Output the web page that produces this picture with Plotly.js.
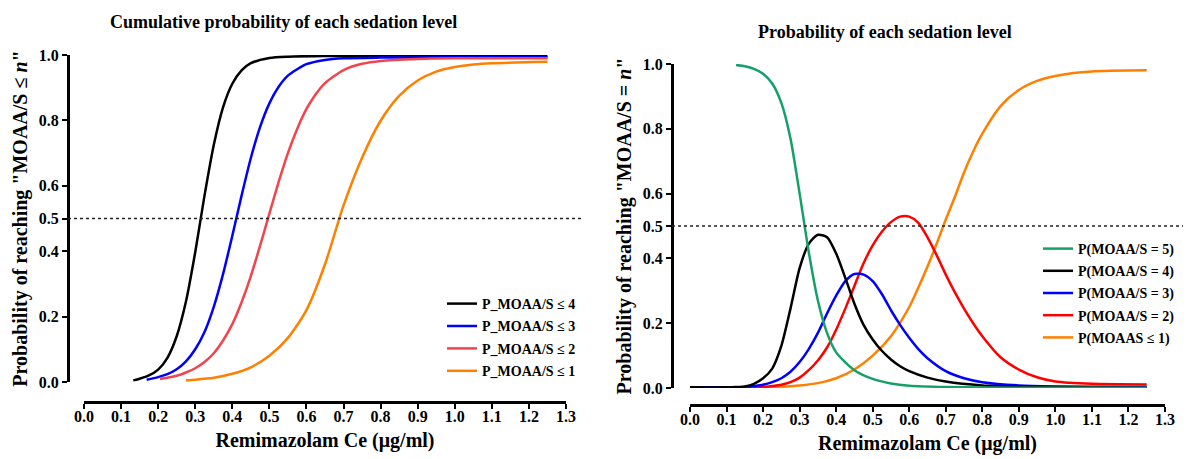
<!DOCTYPE html>
<html><head><meta charset="utf-8">
<script src="https://cdn.plot.ly/plotly-3.0.1.min.js"></script>
<style>html,body{margin:0;padding:0;background:#fff}#chart{width:1203px;height:459px}</style>
</head><body><div id="chart"></div>
<script>
// ---- tick labels ----
const xTickVals = [0,0.1,0.2,0.3,0.4,0.5,0.6,0.7,0.8,0.9,1.0,1.1,1.2,1.3];
const xTickText = ['0.0','0.1','0.2','0.3','0.4','0.5','0.6','0.7','0.8','0.9','1.0','1.1','1.2','1.3'];
const yTickVals = [0,0.2,0.4,0.5,0.6,0.8,1.0];
const yTickText = ['0.0','0.2','0.4','0.5','0.6','0.8','1.0'];

// ---- left panel: cumulative probabilities ----
const leftNames = ['P_MOAA/S ≤ 4','P_MOAA/S ≤ 3','P_MOAA/S ≤ 2','P_MOAA/S ≤ 1'];
const lx4 = [0.133,0.15,0.175,0.2,0.225,0.25,0.275,0.3,0.325,0.35,0.375,0.4,0.425,0.45,0.5,0.55,0.65,0.8,1.0,1.25];
const ly4 = [0.005,0.01,0.02,0.038,0.074,0.14,0.246,0.397,0.57,0.725,0.84,0.912,0.953,0.975,0.991,0.995,0.997,0.997,0.997,0.997];
const lx3 = [0.169,0.2,0.225,0.25,0.275,0.3,0.325,0.35,0.375,0.4,0.425,0.45,0.475,0.5,0.525,0.55,0.6,0.65,0.7,0.8,1.0,1.25];
const ly3 = [0.007,0.015,0.024,0.039,0.063,0.1,0.153,0.23,0.33,0.447,0.57,0.685,0.78,0.852,0.903,0.937,0.972,0.985,0.99,0.992,0.993,0.993];
const lx2 = [0.205,0.225,0.25,0.275,0.3,0.325,0.35,0.375,0.4,0.425,0.45,0.475,0.5,0.525,0.55,0.575,0.6,0.625,0.65,0.7,0.75,0.8,0.9,1.0,1.25];
const ly2 = [0.009,0.013,0.019,0.029,0.042,0.061,0.088,0.127,0.177,0.244,0.324,0.417,0.515,0.612,0.7,0.774,0.835,0.88,0.914,0.954,0.973,0.982,0.988,0.99,0.99];
const lx1 = [0.275,0.3,0.35,0.4,0.45,0.5,0.55,0.6,0.65,0.7,0.75,0.8,0.85,0.9,0.95,1.0,1.05,1.1,1.25];
const ly1 = [0.005,0.007,0.013,0.025,0.045,0.08,0.135,0.22,0.36,0.54,0.686,0.799,0.875,0.922,0.949,0.963,0.971,0.975,0.979];

// ---- right panel: probability of each level ----
const rightNames = ['P(MOAA/S = 5)','P(MOAA/S = 4)','P(MOAA/S = 3)','P(MOAA/S = 2)','P(MOAAS ≤ 1)'];
const rx5 = [0.126,0.15,0.175,0.2,0.225,0.25,0.275,0.3,0.325,0.35,0.375,0.4,0.45,0.5,0.55,0.6,0.7,0.9,1.25];
const ry5 = [0.997,0.993,0.985,0.97,0.94,0.88,0.77,0.6,0.42,0.27,0.17,0.11,0.055,0.028,0.014,0.007,0.003,0.001,0.0005];
const rx4 = [0.0,0.1,0.125,0.15,0.175,0.2,0.225,0.25,0.275,0.3,0.325,0.35,0.375,0.4,0.425,0.45,0.475,0.5,0.525,0.55,0.575,0.6,0.65,0.7,0.8,0.9,1.05,1.25];
const ry4 = [0.002,0.002,0.003,0.005,0.013,0.03,0.06,0.13,0.245,0.37,0.445,0.473,0.465,0.415,0.34,0.26,0.195,0.15,0.115,0.088,0.067,0.052,0.032,0.02,0.008,0.004,0.002,0.001];
const rx3 = [0.0,0.15,0.175,0.2,0.225,0.25,0.275,0.3,0.325,0.35,0.375,0.4,0.425,0.45,0.475,0.5,0.525,0.55,0.575,0.6,0.625,0.65,0.7,0.75,0.8,0.9,1.0,1.25];
const ry3 = [0.002,0.003,0.006,0.01,0.018,0.03,0.05,0.08,0.12,0.17,0.23,0.285,0.33,0.352,0.35,0.33,0.29,0.24,0.195,0.155,0.12,0.092,0.052,0.03,0.018,0.008,0.005,0.003];
const rx2 = [0.0,0.2,0.225,0.25,0.275,0.3,0.325,0.35,0.375,0.4,0.425,0.45,0.475,0.5,0.525,0.55,0.575,0.6,0.625,0.65,0.675,0.7,0.725,0.75,0.775,0.8,0.85,0.9,0.95,1.0,1.1,1.25];
const ry2 = [0.002,0.003,0.006,0.01,0.018,0.032,0.055,0.085,0.125,0.18,0.245,0.315,0.385,0.44,0.482,0.512,0.529,0.529,0.51,0.465,0.41,0.35,0.295,0.245,0.2,0.16,0.095,0.057,0.033,0.02,0.013,0.011];
const rx1 = [0.0,0.2,0.25,0.3,0.35,0.4,0.45,0.5,0.55,0.6,0.625,0.65,0.675,0.7,0.725,0.75,0.775,0.8,0.85,0.9,0.95,1.0,1.05,1.1,1.15,1.25];
const ry1 = [0.001,0.002,0.004,0.008,0.015,0.03,0.057,0.1,0.16,0.25,0.31,0.375,0.445,0.52,0.59,0.665,0.73,0.785,0.87,0.92,0.948,0.963,0.972,0.977,0.979,0.981];

const FONT = '"Liberation Serif", "DejaVu Serif", serif';
const W = 1203, H = 459;

function line(x, y, name, color, xa, ya, leg, rank) {
  return {x: x, y: y, name: name, type: 'scatter', mode: 'lines',
    line: {color: color, width: 2.5, shape: 'spline', smoothing: 0.7},
    xaxis: xa, yaxis: ya, legend: leg, legendgroup: name, legendrank: rank,
    cliponaxis: false, hoverinfo: 'skip'};
}

const traces = [
  line(lx4, ly4, leftNames[0], '#000000', 'x', 'y', 'legend', 1),
  line(lx3, ly3, leftNames[1], '#0000ff', 'x', 'y', 'legend', 2),
  line(lx2, ly2, leftNames[2], '#f2444c', 'x', 'y', 'legend', 3),
  line(lx1, ly1, leftNames[3], '#ff8000', 'x', 'y', 'legend', 4),
  line(rx1, ry1, rightNames[4], '#ff8000', 'x2', 'y2', 'legend2', 5),
  line(rx2, ry2, rightNames[3], '#ff0000', 'x2', 'y2', 'legend2', 4),
  line(rx3, ry3, rightNames[2], '#0000ff', 'x2', 'y2', 'legend2', 3),
  line(rx4, ry4, rightNames[1], '#000000', 'x2', 'y2', 'legend2', 2),
  line(rx5, ry5, rightNames[0], '#15a06a', 'x2', 'y2', 'legend2', 1)
];

function xAxis(domain, pos) {
  return {domain: domain, range: [0, 1.3], anchor: 'free', position: pos,
    showline: true, linewidth: 2.5, linecolor: '#000', ticks: 'outside', ticklen: 5, tickwidth: 2, tickcolor: '#000',
    tickvals: xTickVals, ticktext: xTickText, showgrid: false, zeroline: false, ticklabelstandoff: -6,
    tickfont: {family: FONT, size: 16, color: '#000', weight: 'bold'},
    title: {text: 'Remimazolam Ce (μg/ml)', font: {family: FONT, size: 20, color: '#000', weight: 'bold'}, standoff: 9}};
}
function yAxis(domain, pos, title) {
  return {domain: domain, range: [0, 1], anchor: 'free', position: pos,
    showline: true, linewidth: 2.5, linecolor: '#000', ticks: 'outside', ticklen: 5, tickwidth: 2, tickcolor: '#000',
    tickvals: yTickVals, ticktext: yTickText, showgrid: false, zeroline: false,
    tickfont: {family: FONT, size: 16, color: '#000', weight: 'bold'},
    title: {text: title, font: {family: FONT, size: 20, color: '#000', weight: 'bold'}, standoff: 5}};
}

const layout = {
  width: W, height: H, autosize: false,
  margin: {l: 0, r: 0, t: 0, b: 0},
  paper_bgcolor: '#fff', plot_bgcolor: 'rgba(0,0,0,0)',
  xaxis: xAxis([84/W, 566/W], (H-402)/H),
  yaxis: yAxis([(H-382)/H, (H-55)/H], 68/W, 'Probability of reaching "MOAA/S ≤ <i>n</i>"'),
  xaxis2: xAxis([690/W, 1165/W], (H-405)/H),
  yaxis2: yAxis([(H-388)/H, (H-64)/H], 672/W, 'Probability of reaching "MOAA/S = <i>n</i>"'),
  legend: {x: 442/W, y: (H-288)/H, xanchor: 'left', yanchor: 'top', bgcolor: 'rgba(0,0,0,0)',
    font: {family: FONT, size: 14, color: '#000', weight: 'bold'}, tracegroupgap: 1.2},
  legend2: {x: 1038/W, y: (H-233)/H, xanchor: 'left', yanchor: 'top', bgcolor: 'rgba(0,0,0,0)',
    font: {family: FONT, size: 14, color: '#000', weight: 'bold'}, tracegroupgap: 1},
  shapes: [
    {type: 'line', xref: 'paper', yref: 'y', x0: 68/W, x1: 583/W, y0: 0.5, y1: 0.5, line: {color: '#222', width: 1.5, dash: 'dot'}},
    {type: 'line', xref: 'paper', yref: 'y2', x0: 672/W, x1: 1183/W, y0: 0.5, y1: 0.5, line: {color: '#222', width: 1.5, dash: 'dot'}}
  ],
  annotations: [
    {text: 'Cumulative probability of each sedation level', xref: 'paper', yref: 'paper', x: 283/W, y: (H-22)/H,
      xanchor: 'center', yanchor: 'middle', showarrow: false, font: {family: FONT, size: 18, color: '#000', weight: 'bold'}},
    {text: 'Probability of each sedation level', xref: 'paper', yref: 'paper', x: 885/W, y: (H-32)/H,
      xanchor: 'center', yanchor: 'middle', showarrow: false, font: {family: FONT, size: 18, color: '#000', weight: 'bold'}}
  ]
};

Plotly.newPlot('chart', traces, layout, {staticPlot: true, displayModeBar: false});
</script>
</body></html>
